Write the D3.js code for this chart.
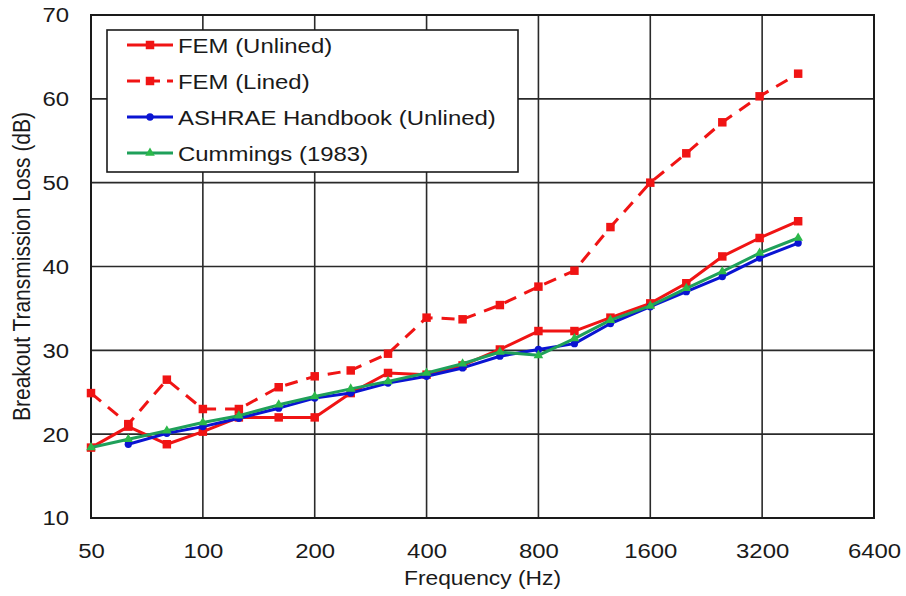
<!DOCTYPE html>
<html>
<head>
<meta charset="utf-8">
<script src="https://cdn.jsdelivr.net/npm/d3@7"></script>
<style>
  html, body { margin: 0; padding: 0; background: #fff; }
  svg { display: block; font-family: "Liberation Sans", Arial, sans-serif; }
</style>
</head>
<body>
<svg id="chart" width="906" height="596"></svg>
<script>
// One-third-octave band centre frequencies (Hz)
const freqs = [50, 63, 80, 100, 125, 160, 200, 250, 315, 400, 500, 630, 800, 1000, 1250, 1600, 2000, 2500, 3150, 4000];

// Breakout transmission loss (dB) for each band
const femUnlined = [18.4, 20.9, 18.8, 20.3, 22.0, 22.0, 22.0, 24.9, 27.3, 27.1, 28.2, 30.1, 32.3, 32.3, 33.9, 35.6, 38.0, 41.2, 43.4, 45.4];
const femLined   = [24.9, 21.2, 26.5, 23.0, 23.0, 25.6, 26.9, 27.6, 29.6, 33.9, 33.7, 35.4, 37.6, 39.5, 44.7, 50.0, 53.5, 57.2, 60.3, 63.0];
const ashraeFreqs = freqs.slice(1);
const ashrae     = [18.8, 20.1, 20.9, 21.9, 23.1, 24.3, 24.9, 26.1, 26.9, 27.9, 29.3, 30.1, 30.8, 33.2, 35.2, 37.0, 38.8, 41.0, 42.8];
const cummings   = [18.4, 19.4, 20.4, 21.4, 22.2, 23.5, 24.5, 25.4, 26.3, 27.3, 28.4, 29.8, 29.4, 31.4, 33.6, 35.3, 37.4, 39.4, 41.6, 43.4];

// Axis ticks
const xTicks = [50, 100, 200, 400, 800, 1600, 3200, 6400];
const yTicks = [10, 20, 30, 40, 50, 60, 70];

const seriesNames = ["FEM (Unlined)", "FEM (Lined)", "ASHRAE Handbook (Unlined)", "Cummings (1983)"];

const W = 906, H = 596;
const margin = { top: 15, right: 32, bottom: 78, left: 91 };
const svg = d3.select("#chart");

const x = d3.scaleLog().base(2).domain([50, 6400]).range([margin.left, W - margin.right]);
const y = d3.scaleLinear().domain([10, 70]).range([H - margin.bottom, margin.top]);

const STRETCH = 1.14;
function label(parent, px, py, text, opts) {
  const g = parent.append("g").attr("transform", `translate(${px},${py}) ${opts.rotate ? "rotate(-90)" : ""} scale(${opts.rotate ? 1 : STRETCH},${opts.rotate ? STRETCH : 1})`);
  g.append("text")
    .attr("text-anchor", opts.anchor || "start")
    .attr("dominant-baseline", "central")
    .attr("font-size", opts.size)
    .attr("fill", opts.fill || "#1a1a1a")
    .text(text);
  return g;
}

// Grid
const grid = svg.append("g");
grid.selectAll(".vg").data(xTicks.slice(1, -1)).join("line")
  .attr("x1", d => x(d)).attr("x2", d => x(d))
  .attr("y1", y(10)).attr("y2", y(70))
  .attr("stroke", "#2a2a2a").attr("stroke-width", 1.6);
grid.selectAll(".hg").data(yTicks.slice(1, -1)).join("line")
  .attr("x1", x(50)).attr("x2", x(6400))
  .attr("y1", d => y(d)).attr("y2", d => y(d))
  .attr("stroke", "#2a2a2a").attr("stroke-width", 1.6);

// Axes via d3 (tick labels only; the frame is drawn separately)
const xAxis = d3.axisBottom(x).tickValues(xTicks).tickSize(0).tickFormat(d3.format("d"));
const yAxis = d3.axisLeft(y).tickValues(yTicks).tickSize(0).tickFormat(d3.format("d"));
const gx = svg.append("g").attr("transform", `translate(0,${y(10)})`).call(xAxis);
const gy = svg.append("g").attr("transform", `translate(${x(50)},0)`).call(yAxis);
gx.select(".domain").remove();
gy.select(".domain").remove();
gx.selectAll(".tick text").remove();
gy.selectAll(".tick text").remove();
gx.selectAll(".tick").each(function (d) {
  label(d3.select(this), 0, 33, d3.format("d")(d), { anchor: "middle", size: 21 });
});
gy.selectAll(".tick").each(function (d) {
  label(d3.select(this), -22, 0, d3.format("d")(d), { anchor: "end", size: 21 });
});

// Plot frame
svg.append("rect")
  .attr("x", x(50)).attr("y", y(70))
  .attr("width", x(6400) - x(50)).attr("height", y(10) - y(70))
  .attr("fill", "none").attr("stroke", "#1a1a1a").attr("stroke-width", 2);

// Axis titles
label(svg, (x(50) + x(6400)) / 2, 578, "Frequency (Hz)", { anchor: "middle", size: 20 });
label(svg, 22, (y(10) + y(70)) / 2, "Breakout Transmission Loss (dB)", { anchor: "middle", size: 21, rotate: true });

// Series definitions
const series = [
  { name: seriesNames[0], xs: freqs, ys: femUnlined, color: "#f01414", dash: null, marker: "square" },
  { name: seriesNames[1], xs: freqs, ys: femLined, color: "#f01414", dash: "13,9", marker: "square" },
  { name: seriesNames[2], xs: ashraeFreqs, ys: ashrae, color: "#0a14d2", dash: null, marker: "circle" },
  { name: seriesNames[3], xs: freqs, ys: cummings, color: "#1fa05a", dash: null, marker: "triangle", mcolor: "#2cb84a" }
];

const symbolFor = { square: d3.symbolSquare, circle: d3.symbolCircle, triangle: d3.symbolTriangle };
const sizeFor = { square: 72, circle: 42, triangle: 40 };

const line = d3.line().x(d => x(d[0])).y(d => y(d[1]));
const plot = svg.append("g");
series.forEach(s => {
  const pts = s.xs.map((f, i) => [f, s.ys[i]]);
  plot.append("path").datum(pts)
    .attr("d", line)
    .attr("fill", "none")
    .attr("stroke", s.color)
    .attr("stroke-width", 3)
    .attr("stroke-dasharray", s.dash)
    .attr("stroke-linejoin", "round");
  plot.append("g").selectAll("path").data(pts).join("path")
    .attr("transform", d => `translate(${x(d[0])},${y(d[1])})`)
    .attr("d", d3.symbol().type(symbolFor[s.marker]).size(sizeFor[s.marker]))
    .attr("fill", s.mcolor || s.color);
});

// Legend
const lg = svg.append("g");
lg.append("rect").attr("x", 107).attr("y", 30).attr("width", 411).attr("height", 142)
  .attr("fill", "#fff").attr("stroke", "#1a1a1a").attr("stroke-width", 1.6);
series.forEach((s, i) => {
  const ly = 45 + i * 36;
  lg.append("line").attr("x1", 127).attr("x2", 173).attr("y1", ly).attr("y2", ly)
    .attr("stroke", s.color).attr("stroke-width", 3)
    .attr("stroke-dasharray", s.dash ? "13,7" : null);
  lg.append("path").attr("transform", `translate(150,${ly})`)
    .attr("d", d3.symbol().type(symbolFor[s.marker]).size(sizeFor[s.marker]))
    .attr("fill", s.mcolor || s.color);
  label(lg, 178, ly + 1, s.name, { anchor: "start", size: 21 });
});
</script>
</body>
</html>
